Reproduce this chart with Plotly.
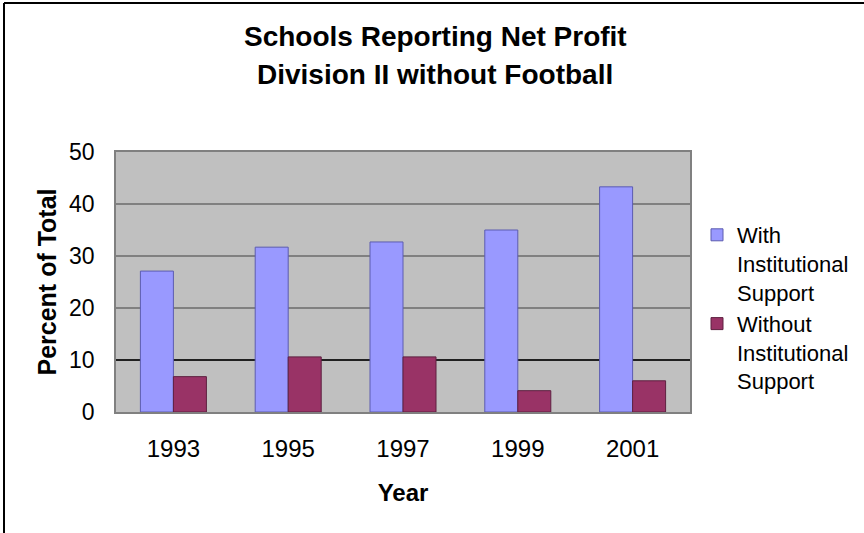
"""Schools reporting net profit, Division II without football."""

import plotly.graph_objects as go

YEARS = ["1993", "1995", "1997", "1999", "2001"]
WITH_SUPPORT = [27.1, 31.7, 32.7, 35.0, 43.3]
WITHOUT_SUPPORT = [6.8, 10.6, 10.6, 4.1, 6.0]
SERIES_NAMES = ["With<br>Institutional<br>Support", "Without<br>Institutional<br>Support"]
TITLE_LINES = ["Schools Reporting Net Profit", "Division II without Football"]

FONT = "Liberation Sans, Arial, sans-serif"
W, H = 864, 533
L, R, T, B = 116, 174, 152, 121
PW, PH = W - L - R, H - T - B


def px_x(px):
    return (px - L) / PW


def px_y(py):
    return (H - B - py) / PH


fig = go.Figure()
fig.add_trace(go.Bar(
    x=YEARS, y=WITH_SUPPORT, name=SERIES_NAMES[0],
    marker=dict(color="#9999FF", line=dict(color="#5C5CB0", width=1)),
))
fig.add_trace(go.Bar(
    x=YEARS, y=WITHOUT_SUPPORT, name=SERIES_NAMES[1],
    marker=dict(color="#993366", line=dict(color="#5E2040", width=1)),
))

# title as two annotations to get the wide line spacing
for text, py in zip(TITLE_LINES, [36, 75]):
    fig.add_annotation(
        text=f"<b>{text}</b>", xref="paper", yref="paper",
        x=px_x(435), y=px_y(py), xanchor="center", yanchor="middle",
        showarrow=False, font=dict(family=FONT, size=28, color="black"),
    )

# black gridline at 10, drawn over the grey grid but under the bars
fig.add_shape(type="line", xref="x", yref="y", x0=-0.5, x1=len(YEARS) - 0.5,
              y0=10, y1=10, line=dict(color="black", width=1.5), layer="between")

# outer chart frame (top and left edges visible)
fig.add_shape(type="line", xref="paper", yref="paper",
              x0=px_x(4), x1=px_x(870), y0=px_y(3), y1=px_y(3),
              line=dict(color="black", width=2))
fig.add_shape(type="line", xref="paper", yref="paper",
              x0=px_x(4), x1=px_x(4), y0=px_y(3), y1=px_y(540),
              line=dict(color="black", width=2))

fig.update_layout(
    width=W, height=H,
    margin=dict(l=L, r=R, t=T, b=B, autoexpand=False),
    paper_bgcolor="white",
    plot_bgcolor="#C0C0C0",
    barmode="group",
    bargap=0.425,
    bargroupgap=0,
    font=dict(family=FONT, color="black"),
    legend=dict(
        x=px_x(697), y=px_y(214), xanchor="left", yanchor="top",
        font=dict(family=FONT, size=22, color="black"),
        itemwidth=30, valign="top", bgcolor="rgba(0,0,0,0)",
    ),
    xaxis=dict(
        range=[-0.5, len(YEARS) - 0.5],
        showgrid=False, showline=True, linecolor="#808080", linewidth=1.5, mirror=True,
        ticks="", tickfont=dict(size=24), ticklabelstandoff=14,
        title=dict(text="<b>Year</b>", font=dict(size=24), standoff=24),
    ),
    yaxis=dict(
        range=[0, 50], dtick=10, showgrid=True, gridcolor="#808080", gridwidth=1.5,
        zeroline=False, showline=True, linecolor="#808080", linewidth=1.5, mirror=True,
        ticks="", tickfont=dict(size=23), ticklabelstandoff=15,
        title=dict(text="<b>Percent of Total</b>", font=dict(size=25), standoff=5),
    ),
)

# drop the browser's default body margin so the figure sits at the page origin
fig.write_html(
    "out.html",
    config={"displayModeBar": False},
    post_script="document.body.style.margin = '0';",
)
